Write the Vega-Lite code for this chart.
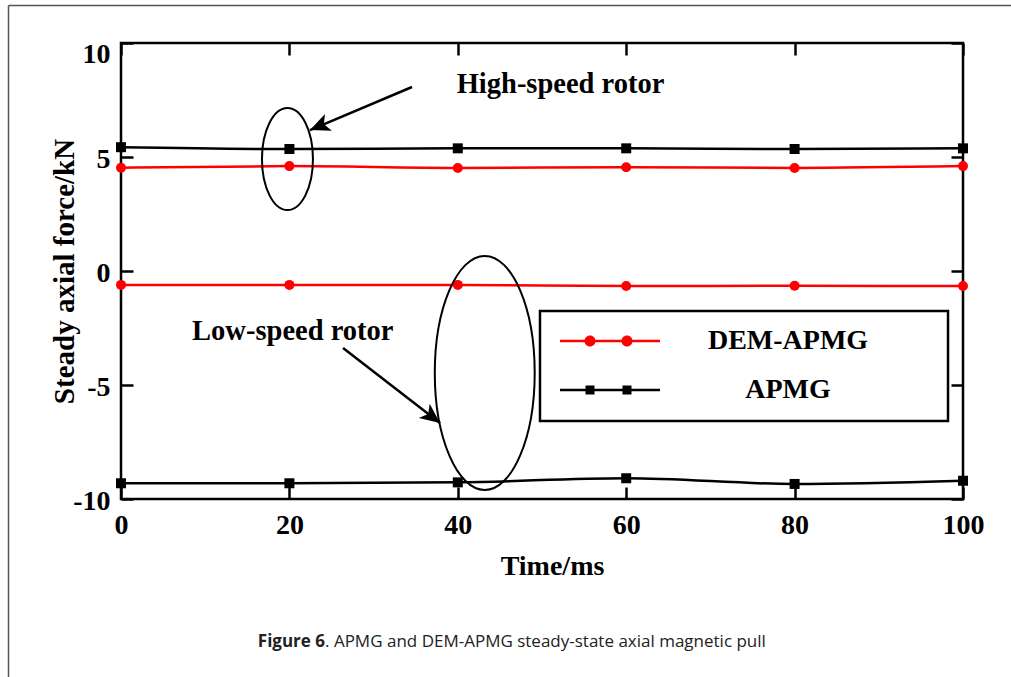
{
  "$schema": "https://vega.github.io/schema/vega-lite/v6.json",
  "width": 842,
  "height": 456,
  "autosize": {"type": "none"},
  "padding": {"left": 121, "top": 43, "right": 48, "bottom": 178},
  "background": "white",
  "config": {
    "view": {"stroke": "black", "strokeWidth": 2.5},
    "axis": {"grid": false, "domain": false, "labelOverlap": false, "labelBound": false, "labelFlush": false}
  },
  "datasets": {
    "force": [
      {"series": "DEM-APMG", "rotor": "high", "t": 0, "f": 4.53},
      {"series": "DEM-APMG", "rotor": "high", "t": 20, "f": 4.6},
      {"series": "DEM-APMG", "rotor": "high", "t": 40, "f": 4.52},
      {"series": "DEM-APMG", "rotor": "high", "t": 60, "f": 4.55},
      {"series": "DEM-APMG", "rotor": "high", "t": 80, "f": 4.52},
      {"series": "DEM-APMG", "rotor": "high", "t": 100, "f": 4.6},
      {"series": "APMG", "rotor": "high", "t": 0, "f": 5.43},
      {"series": "APMG", "rotor": "high", "t": 20, "f": 5.35},
      {"series": "APMG", "rotor": "high", "t": 40, "f": 5.38},
      {"series": "APMG", "rotor": "high", "t": 60, "f": 5.38},
      {"series": "APMG", "rotor": "high", "t": 80, "f": 5.35},
      {"series": "APMG", "rotor": "high", "t": 100, "f": 5.38},
      {"series": "DEM-APMG", "rotor": "low", "t": 0, "f": -0.61},
      {"series": "DEM-APMG", "rotor": "low", "t": 20, "f": -0.61},
      {"series": "DEM-APMG", "rotor": "low", "t": 40, "f": -0.61},
      {"series": "DEM-APMG", "rotor": "low", "t": 60, "f": -0.66},
      {"series": "DEM-APMG", "rotor": "low", "t": 80, "f": -0.65},
      {"series": "DEM-APMG", "rotor": "low", "t": 100, "f": -0.66},
      {"series": "APMG", "rotor": "low", "t": 0, "f": -9.31},
      {"series": "APMG", "rotor": "low", "t": 20, "f": -9.31},
      {"series": "APMG", "rotor": "low", "t": 40, "f": -9.27},
      {"series": "APMG", "rotor": "low", "t": 60, "f": -9.09},
      {"series": "APMG", "rotor": "low", "t": 80, "f": -9.34},
      {"series": "APMG", "rotor": "low", "t": 100, "f": -9.2}
    ]
  },
  "layer": [
    {
      "data": {"name": "force"},
      "mark": {"type": "line", "interpolate": "monotone", "strokeWidth": 2.5},
      "encoding": {
        "x": {
          "field": "t", "type": "quantitative",
          "scale": {"domain": [0, 100], "nice": false},
          "axis": {
            "orient": "bottom", "values": [0, 20, 40, 60, 80, 100], "labelExpr": "toString(datum.value)",
            "tickSize": -12, "tickWidth": 2.5, "tickColor": "black",
            "labelPadding": 24, "labelFont": "Liberation Serif", "labelFontSize": 28, "labelFontWeight": "bold", "labelColor": "black",
            "title": "Time/ms", "titleFont": "Liberation Serif", "titleFontSize": 28, "titleFontWeight": "bold", "titleColor": "black",
            "titleX": 431, "titleY": 75, "titleBaseline": "alphabetic", "titleAlign": "center"
          }
        },
        "y": {
          "field": "f", "type": "quantitative",
          "scale": {"domain": [-10, 10], "nice": false},
          "axis": {
            "orient": "left", "values": [-10, -5, 0, 5, 10], "labelExpr": "toString(datum.value)",
            "tickSize": -12, "tickWidth": 2.5, "tickColor": "black",
            "labelPadding": 23, "labelFont": "Liberation Serif", "labelFontSize": 28, "labelFontWeight": "bold", "labelColor": "black",
            "labelOffset": {"condition": {"test": "datum.value === 10", "value": 11}, "value": 2},
            "title": "Steady axial force/kN", "titleFont": "Liberation Serif", "titleFontSize": 29, "titleFontWeight": "bold", "titleColor": "black",
            "titleX": -48, "titleBaseline": "alphabetic"
          }
        },
        "color": {
          "field": "series", "type": "nominal",
          "scale": {"domain": ["DEM-APMG", "APMG"], "range": ["#ff0000", "#000000"]},
          "legend": {
            "orient": "none", "legendX": 439, "legendY": 284, "title": null, "padding": 0,
            "symbolSize": 784, "symbolOffset": 36, "rowPadding": 21,
            "labelOffset": 164, "labelAlign": "center", "labelLimit": 400,
            "labelFont": "Liberation Serif", "labelFontSize": 28, "labelFontWeight": "bold", "labelColor": "black",
            "encode": {
              "symbols": {
                "update": {
                  "shape": {"signal": "datum.value === 'APMG' ? 'M-3.5714,-0.0893H3.5714V0.0893H-3.5714Z M-1.75,-0.3214H-1.1072V0.3214H-1.75Z M0.8929,-0.3214H1.5357V0.3214H0.8929Z' : 'M-3.5714,-0.0893H3.5714V0.0893H-3.5714Z M-1.0357,0C-1.0357,0.217 -1.2116,0.3929 -1.4286,0.3929C-1.6456,0.3929 -1.8215,0.217 -1.8215,0C-1.8215,-0.217 -1.6456,-0.3929 -1.4286,-0.3929C-1.2116,-0.3929 -1.0357,-0.217 -1.0357,0Z M1.6072,0C1.6072,0.217 1.4313,0.3929 1.2143,0.3929C0.9973,0.3929 0.8214,0.217 0.8214,0C0.8214,-0.217 0.9973,-0.3929 1.2143,-0.3929C1.4313,-0.3929 1.6072,-0.217 1.6072,0Z'"},
                  "fill": {"signal": "datum.value === 'APMG' ? '#000000' : '#ff0000'"},
                  "fillOpacity": {"value": 1},
                  "opacity": {"value": 1},
                  "strokeWidth": {"value": 0},
                  "size": {"value": 784}
                }
              }
            }
          }
        },
        "detail": {"field": "rotor"}
      }
    },
    {
      "data": {"name": "force"},
      "transform": [{"filter": "datum.series === 'DEM-APMG'"}],
      "mark": {"type": "point", "shape": "circle", "filled": true, "size": 100, "opacity": 1, "color": "#ff0000"},
      "encoding": {
        "x": {
          "field": "t", "type": "quantitative",
          "scale": {"domain": [0, 100], "nice": false},
          "axis": {"orient": "top", "values": [0, 20, 40, 60, 80, 100], "labels": false, "title": null, "tickSize": -12, "tickWidth": 2.5, "tickColor": "black"}
        },
        "y": {
          "field": "f", "type": "quantitative",
          "scale": {"domain": [-10, 10], "nice": false},
          "axis": {"orient": "right", "values": [-10, -5, 0, 5, 10], "labels": false, "title": null, "tickSize": -12, "tickWidth": 2.5, "tickColor": "black"}
        }
      }
    },
    {
      "data": {"name": "force"},
      "transform": [{"filter": "datum.series === 'APMG'"}],
      "mark": {"type": "point", "shape": "square", "filled": true, "size": 100, "opacity": 1, "color": "#000000"},
      "encoding": {
        "x": {"field": "t", "type": "quantitative", "scale": {"domain": [0, 100], "nice": false}, "axis": null},
        "y": {"field": "f", "type": "quantitative", "scale": {"domain": [-10, 10], "nice": false}, "axis": null}
      }
    },
    {
      "data": {"values": [{}]},
      "mark": {"type": "rect", "fill": "transparent", "stroke": "black", "strokeWidth": 2.5},
      "encoding": {
        "x": {"datum": 49.76, "type": "quantitative", "scale": {"domain": [0, 100], "nice": false}, "axis": null},
        "x2": {"datum": 98.22},
        "y": {"datum": -1.75, "type": "quantitative", "scale": {"domain": [-10, 10], "nice": false}, "axis": null},
        "y2": {"datum": -6.58}
      }
    },
    {
      "data": {"values": [{}]},
      "mark": {"type": "point", "shape": "M0.5,0C0.5,0.5523 0.2762,1 0,1C-0.2762,1 -0.5,0.5523 -0.5,0C-0.5,-0.5523 -0.2762,-1 0,-1C0.2762,-1 0.5,-0.5523 0.5,0Z", "size": 10404, "filled": false, "stroke": "black", "strokeWidth": 2, "opacity": 1},
      "encoding": {
        "x": {"datum": 19.77, "type": "quantitative", "scale": {"domain": [0, 100], "nice": false}, "axis": null},
        "y": {"datum": 4.91, "type": "quantitative", "scale": {"domain": [-10, 10], "nice": false}, "axis": null}
      }
    },
    {
      "data": {"values": [{}]},
      "mark": {"type": "point", "shape": "M0.427,0C0.427,0.5523 0.2358,1 0,1C-0.2358,1 -0.427,0.5523 -0.427,0C-0.427,-0.5523 -0.2358,-1 0,-1C0.2358,-1 0.427,-0.5523 0.427,0Z", "size": 54756, "filled": false, "stroke": "black", "strokeWidth": 2, "opacity": 1},
      "encoding": {
        "x": {"datum": 43.2, "type": "quantitative", "scale": {"domain": [0, 100], "nice": false}, "axis": null},
        "y": {"datum": -4.47, "type": "quantitative", "scale": {"domain": [-10, 10], "nice": false}, "axis": null}
      }
    },
    {
      "data": {"values": [{}]},
      "mark": {"type": "rule", "strokeWidth": 2.5, "color": "black"},
      "encoding": {
        "x": {"datum": 34.56, "type": "quantitative", "scale": {"domain": [0, 100], "nice": false}, "axis": null},
        "x2": {"datum": 22.45},
        "y": {"datum": 8.07, "type": "quantitative", "scale": {"domain": [-10, 10], "nice": false}, "axis": null},
        "y2": {"datum": 6.18}
      }
    },
    {
      "data": {"values": [{}]},
      "mark": {"type": "rule", "strokeWidth": 2.5, "color": "black"},
      "encoding": {
        "x": {"datum": 26.37, "type": "quantitative", "scale": {"domain": [0, 100], "nice": false}, "axis": null},
        "x2": {"datum": 37.89},
        "y": {"datum": -3.38, "type": "quantitative", "scale": {"domain": [-10, 10], "nice": false}, "axis": null},
        "y2": {"datum": -6.67}
      }
    },
    {
      "data": {"values": [{}]},
      "mark": {"type": "point", "shape": "M0,0L0.45,1L0,0.75L-0.45,1Z", "size": 1600, "angle": 247.2, "filled": true, "color": "black", "opacity": 1},
      "encoding": {
        "x": {"datum": 22.45, "type": "quantitative", "scale": {"domain": [0, 100], "nice": false}, "axis": null},
        "y": {"datum": 6.18, "type": "quantitative", "scale": {"domain": [-10, 10], "nice": false}, "axis": null}
      }
    },
    {
      "data": {"values": [{}]},
      "mark": {"type": "point", "shape": "M0,0L0.45,1L0,0.75L-0.45,1Z", "size": 1600, "angle": 127.7, "filled": true, "color": "black", "opacity": 1},
      "encoding": {
        "x": {"datum": 37.89, "type": "quantitative", "scale": {"domain": [0, 100], "nice": false}, "axis": null},
        "y": {"datum": -6.67, "type": "quantitative", "scale": {"domain": [-10, 10], "nice": false}, "axis": null}
      }
    },
    {
      "data": {"values": [{}]},
      "mark": {"type": "text", "text": "High-speed rotor", "font": "Liberation Serif", "fontSize": 28.5, "fontWeight": "bold", "color": "black", "align": "center", "baseline": "alphabetic"},
      "encoding": {
        "x": {"datum": 52.2, "type": "quantitative", "scale": {"domain": [0, 100], "nice": false}, "axis": null},
        "y": {"datum": 7.81, "type": "quantitative", "scale": {"domain": [-10, 10], "nice": false}, "axis": null}
      }
    },
    {
      "data": {"values": [{}]},
      "mark": {"type": "text", "text": "Low-speed rotor", "font": "Liberation Serif", "fontSize": 28.5, "fontWeight": "bold", "color": "black", "align": "center", "baseline": "alphabetic"},
      "encoding": {
        "x": {"datum": 20.4, "type": "quantitative", "scale": {"domain": [0, 100], "nice": false}, "axis": null},
        "y": {"datum": -3.03, "type": "quantitative", "scale": {"domain": [-10, 10], "nice": false}, "axis": null}
      }
    },
    {
      "data": {"values": [{}]},
      "mark": {"type": "text", "text": "Figure 6", "font": "Open Sans", "fontSize": 17, "fontWeight": "bold", "color": "#222222", "align": "right", "baseline": "alphabetic"},
      "encoding": {
        "x": {"datum": 24.23, "type": "quantitative", "scale": {"domain": [0, 100], "nice": false}, "axis": null},
        "y": {"datum": -16.49, "type": "quantitative", "scale": {"domain": [-10, 10], "nice": false}, "axis": null}
      }
    },
    {
      "data": {"values": [{}]},
      "mark": {"type": "text", "text": ". APMG and DEM-APMG steady-state axial magnetic pull", "font": "Open Sans", "fontSize": 17, "color": "#222222", "align": "left", "baseline": "alphabetic"},
      "encoding": {
        "x": {"datum": 24.23, "type": "quantitative", "scale": {"domain": [0, 100], "nice": false}, "axis": null},
        "y": {"datum": -16.49, "type": "quantitative", "scale": {"domain": [-10, 10], "nice": false}, "axis": null}
      }
    },
    {
      "data": {"values": [{}]},
      "mark": {"type": "rule", "strokeWidth": 1.5, "color": "#555555"},
      "encoding": {
        "x": {"datum": -13.36, "type": "quantitative", "scale": {"domain": [0, 100], "nice": false}, "axis": null},
        "y": {"datum": 11.64, "type": "quantitative", "scale": {"domain": [-10, 10], "nice": false}, "axis": null},
        "y2": {"datum": -18}
      }
    },
    {
      "data": {"values": [{}]},
      "mark": {"type": "rule", "strokeWidth": 1.5, "color": "#555555"},
      "encoding": {
        "x": {"datum": -13.36, "type": "quantitative", "scale": {"domain": [0, 100], "nice": false}, "axis": null},
        "x2": {"datum": 107},
        "y": {"datum": 11.64, "type": "quantitative", "scale": {"domain": [-10, 10], "nice": false}, "axis": null}
      }
    }
  ],
  "resolve": {"axis": {"x": "independent", "y": "independent"}}
}
